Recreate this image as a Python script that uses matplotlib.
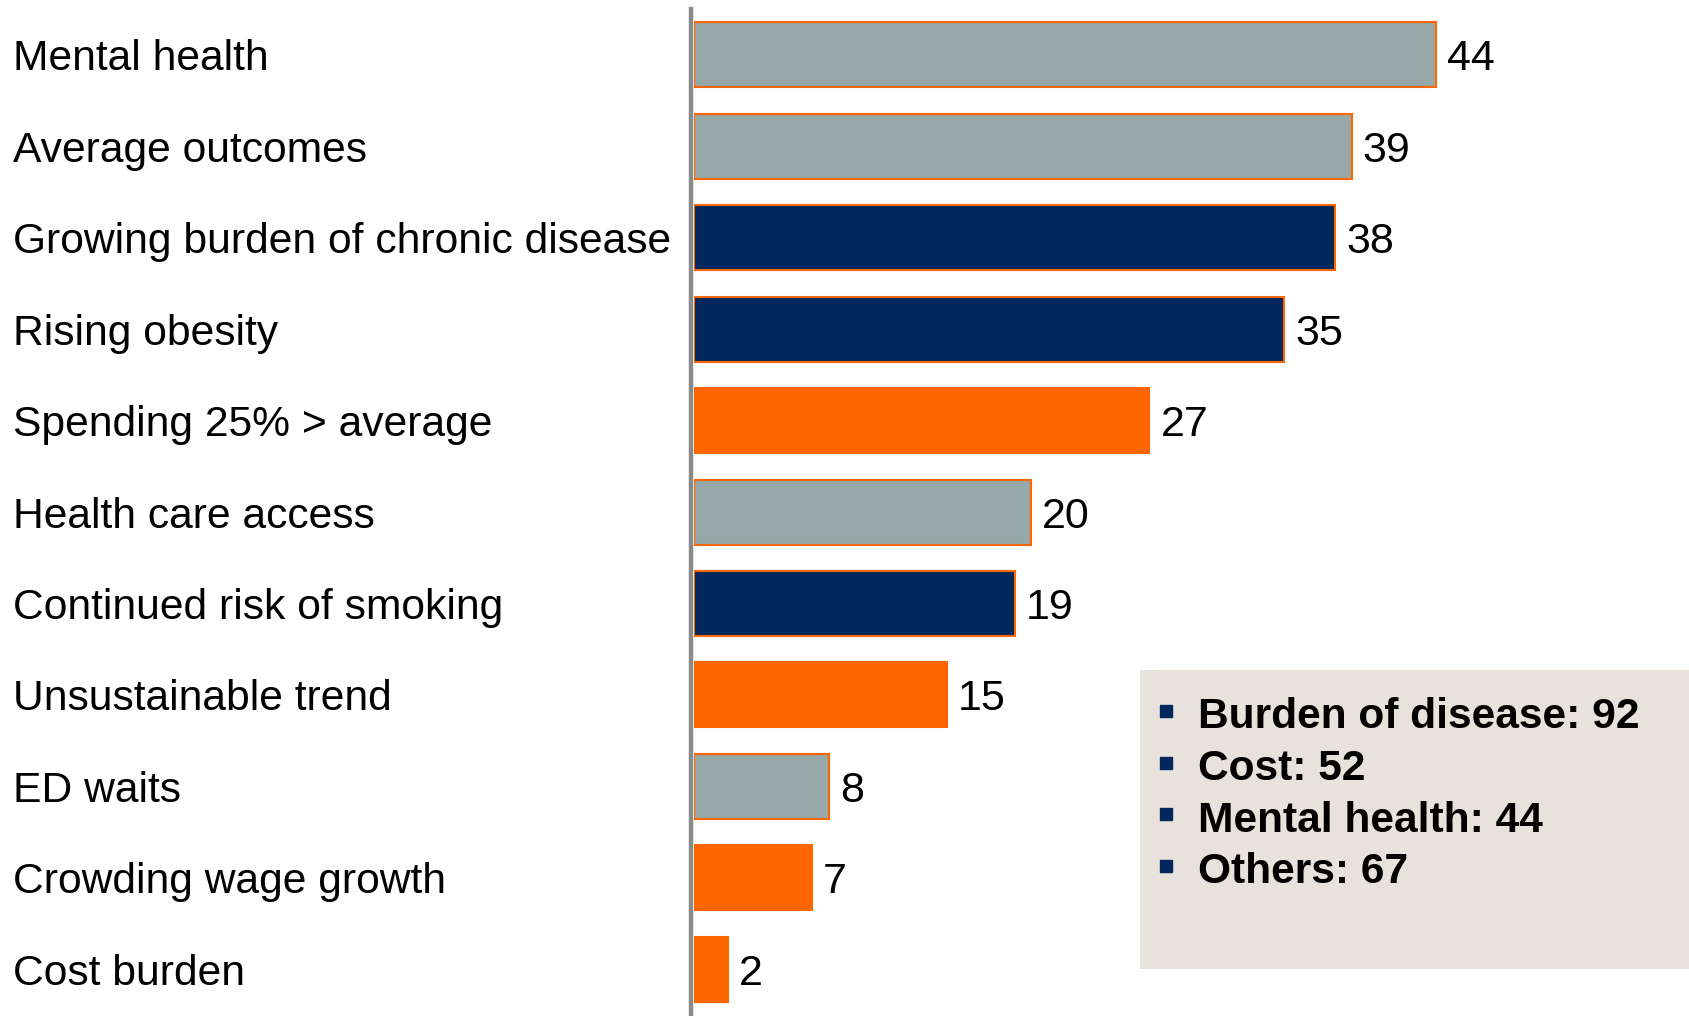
"""Issues ranked by number of mentions, horizontal bars."""
import matplotlib
matplotlib.use('Agg')
from matplotlib import pyplot as plt
from matplotlib.transforms import blended_transform_factory

categories = ['Mental health', 'Average outcomes', 'Growing burden of chronic disease',
              'Rising obesity', 'Spending 25% > average', 'Health care access',
              'Continued risk of smoking', 'Unsustainable trend', 'ED waits',
              'Crowding wage growth', 'Cost burden']
values = [44, 39, 38, 35, 27, 20, 19, 15, 8, 7, 2]
groups = ['mental', 'other', 'disease', 'disease', 'cost', 'other',
          'disease', 'cost', 'other', 'cost', 'cost']
summary = ['Burden of disease: 92', 'Cost: 52', 'Mental health: 44', 'Others: 67']

colors = {'mental': '#96A8A7', 'other': '#96A8A7', 'disease': '#00285E', 'cost': '#FF6600'}


def plot():
    plt.rcParams['font.family'] = ['Liberation Sans', 'DejaVu Sans']
    W, H = 1690, 1016
    fig = plt.figure(figsize=(W / 100, H / 100), dpi=100)
    ax = fig.add_axes([694 / W, 0, 1 - 694 / W, 1 - 9 / H])

    y = list(range(len(categories)))
    ax.barh(y, values, height=0.71, color=[colors[g] for g in groups],
            edgecolor='#FF6600', linewidth=1.5)
    ax.set_xlim(0, (W - 694) / 16.87)
    ax.set_ylim(10.51, -0.5)
    ax.axis('off')
    ax.axvline(-0.17, color='#8A8A8A', linewidth=3.2, clip_on=False)

    for yi, v in zip(y, values):
        ax.text(v + 0.65, yi, str(v), va='center_baseline', ha='left', fontsize=31)

    tr = blended_transform_factory(fig.transFigure, ax.transData)
    for yi, c in zip(y, categories):
        ax.text(13 / W, yi, c, va='center_baseline', ha='left', fontsize=30.7, transform=tr)

    box = fig.add_axes([1140 / W, 1 - 969 / H, 550 / W, 299 / H])
    box.set_facecolor('#E7E3DC')
    box.set_xticks([])
    box.set_yticks([])
    for s in box.spines.values():
        s.set_visible(False)
    box.set_xlim(0, 550)
    box.set_ylim(299, 0)
    for i, t in enumerate(summary):
        yy = 43 + i * 51.5
        box.plot([26], [yy - 2], marker='s', markersize=9, color='#00285E')
        box.text(58, yy, t, va='center_baseline', ha='left', fontsize=30.6, fontweight='bold')

    fig.savefig('out.png')


if __name__ == '__main__':
    plot()
